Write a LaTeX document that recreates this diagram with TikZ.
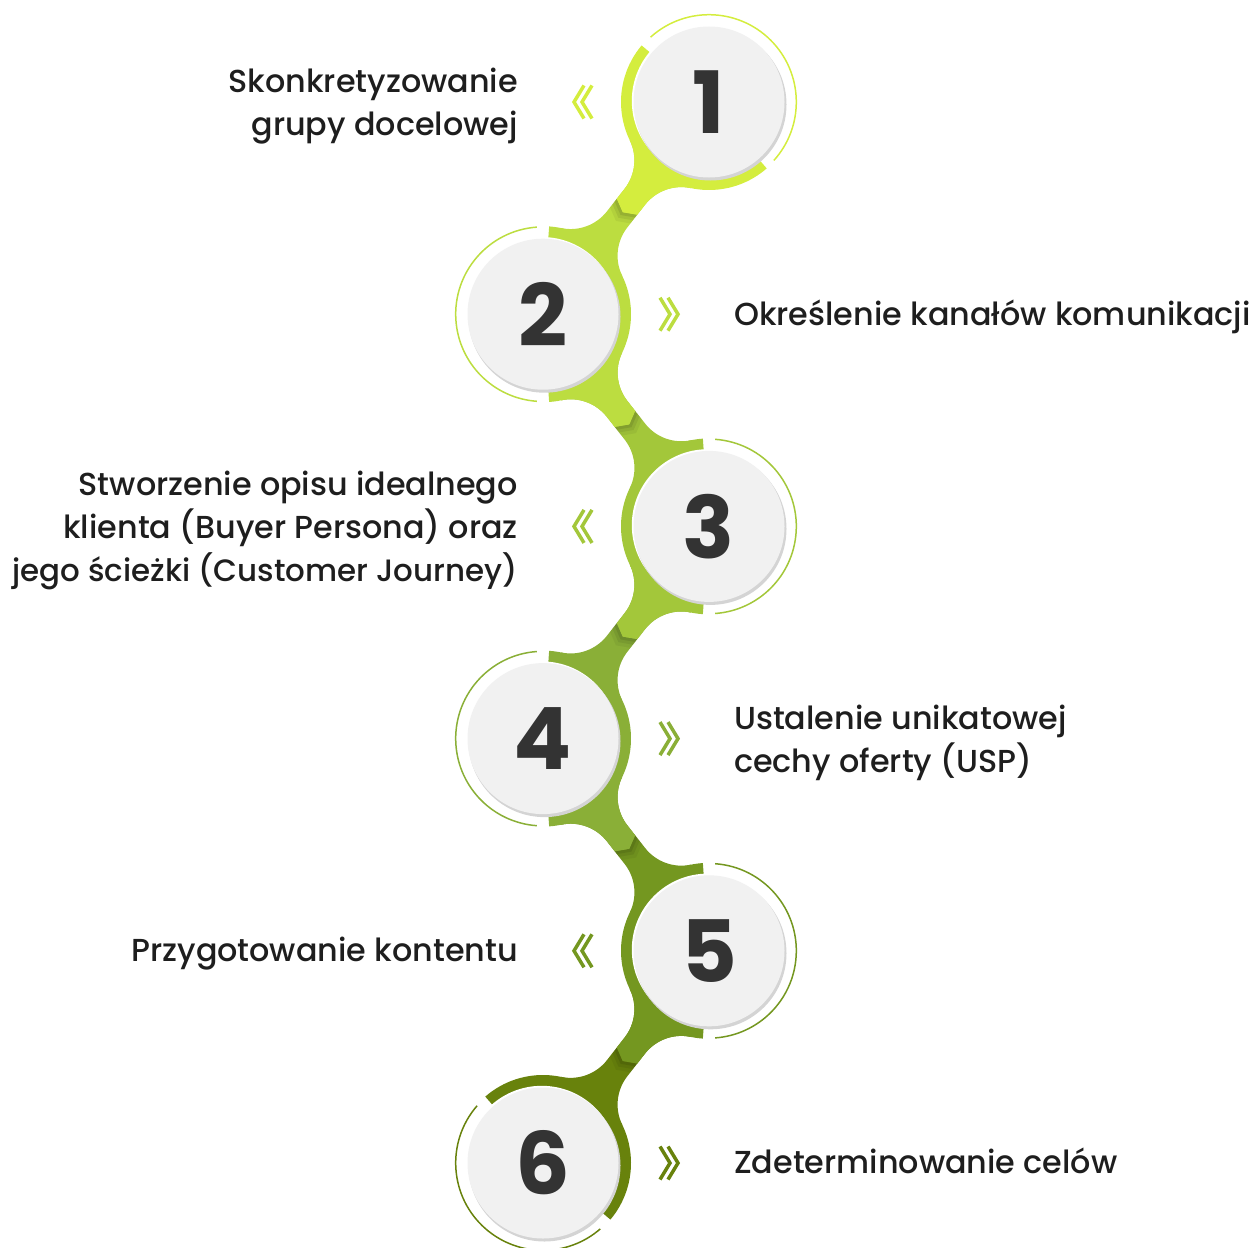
\documentclass[tikz,border=0pt]{standalone}
\usepackage{fontspec}
\setmainfont{Poppins}
\newfontfamily\txtfont{Poppins Medium}
\definecolor{cA}{RGB}{212,237,62}
\definecolor{cB}{RGB}{188,221,64}
\definecolor{cC}{RGB}{163,199,58}
\definecolor{cD}{RGB}{138,175,55}
\definecolor{cE}{RGB}{116,151,32}
\definecolor{cF}{RGB}{104,130,12}
\definecolor{discfill}{RGB}{241,241,241}
\definecolor{discshadow}{RGB}{212,212,212}
\definecolor{digitcol}{RGB}{51,51,51}
\definecolor{tcol}{RGB}{30,30,30}
\def\myneckpath{(0,0) -- (79.0,38.75) arc[start angle=206.1, end angle=270, radius=46] -- (149.1,13) arc[start angle=270, end angle=333.9, radius=46] -- (269.4,0) -- (190.4,-38.75) arc[start angle=26.1, end angle=90, radius=46] -- (120.3,-13) arc[start angle=90, end angle=153.9, radius=46] -- cycle}
\newcommand{\myneck}[4]{%
  \begin{scope}[shift={(#1)},rotate=#2]
    \fill[#4] \myneckpath;
    \begin{scope}
      \clip \myneckpath;
      \foreach \w/\o in {11/0.05,7/0.07,3.5/0.09}{%
        \fill[black,opacity=\o] (133,13) -- (140,0) -- (133,-13) -- (133+\w,-13) -- (140+\w,0) -- (133+\w,13) -- cycle;}
      \fill[#3] (-50,-120) -- (-50,120) -- (75.4,120) -- (140,0) -- (75.4,-120) -- cycle;
    \end{scope}
  \end{scope}}
\newcommand{\myband}[4]{%
  \fill[#2,shift={(#1)}] (#3:88) arc[start angle=#3, end angle=#4, radius=88] -- (#4:75) arc[start angle=#4, end angle=#3, radius=75] -- cycle;}
\newcommand{\mythin}[4]{%
  \draw[#2,line width=1.5,shift={(#1)}] (#3:87.3) arc[start angle=#3, end angle=#4, radius=87.3];}
\newcommand{\mydisc}[3]{%
  \fill[white,shift={(#1)}] (-1.2,1.2) circle[radius=76];
  \fill[discshadow,shift={(#1)}] (1.5,-2.5) circle[radius=76];
  \fill[discfill] (#1) circle[radius=75.5];
  \node[digit] (#2) at (#1) {#3};}
\begin{document}
\begin{tikzpicture}[x=1pt,y=1pt,
  digit/.style={font=\fontsize{86}{86}\selectfont\bfseries, text=digitcol, inner sep=0},
  txt/.style={font=\txtfont\fontsize{31.8}{43}\selectfont, text=tcol, inner sep=0},
  chev/.style={line width=3.5, line join=miter}]
\useasboundingbox (0,0) rectangle (1255,-1247);
\coordinate (c1) at (709,-102);
\coordinate (c2) at (543,-314.2);
\coordinate (c3) at (709,-526.4);
\coordinate (c4) at (543,-738.6);
\coordinate (c5) at (709,-950.8);
\coordinate (c6) at (543,-1163);
% necks
\myneck{c1}{231.95}{cA}{cB}
\myneck{c2}{-51.95}{cB}{cC}
\myneck{c3}{231.95}{cC}{cD}
\myneck{c4}{-51.95}{cD}{cE}
\myneck{c5}{231.95}{cE}{cF}
% bands
\myband{c1}{cA}{140}{311}
\myband{c2}{cB}{86}{-86}
\myband{c3}{cC}{94}{266}
\myband{c4}{cD}{86}{-86}
\myband{c5}{cE}{94}{266}
\myband{c6}{cF}{131}{-40}
% thin arcs
\mythin{c1}{cA}{132}{-42}
\mythin{c2}{cB}{94}{266}
\mythin{c3}{cC}{86}{-86}
\mythin{c4}{cD}{94}{266}
\mythin{c5}{cE}{86}{-86}
\mythin{c6}{cF}{139}{311}
% discs
\mydisc{c1}{n1}{1}
\mydisc{c2}{n2}{2}
\mydisc{c3}{n3}{3}
\mydisc{c4}{n4}{4}
\mydisc{c5}{n5}{5}
\mydisc{c6}{n6}{6}
% chevrons
\draw[chev,cA,shift={(0,-102)}] (584,16.5) -- (574,0) -- (584,-16.5) (592,16.5) -- (582,0) -- (592,-16.5);
\draw[chev,cC,shift={(0,-526.4)}] (584,16.5) -- (574,0) -- (584,-16.5) (592,16.5) -- (582,0) -- (592,-16.5);
\draw[chev,cE,shift={(0,-950.8)}] (584,16.5) -- (574,0) -- (584,-16.5) (592,16.5) -- (582,0) -- (592,-16.5);
\draw[chev,cB,shift={(0,-314.2)}] (660,16.5) -- (670,0) -- (660,-16.5) (668,16.5) -- (678,0) -- (668,-16.5);
\draw[chev,cD,shift={(0,-738.6)}] (660,16.5) -- (670,0) -- (660,-16.5) (668,16.5) -- (678,0) -- (668,-16.5);
\draw[chev,cF,shift={(0,-1163)}] (660,16.5) -- (670,0) -- (660,-16.5) (668,16.5) -- (678,0) -- (668,-16.5);
% texts
\node[txt,anchor=east,align=right] (t1) at (518,-106) {Skonkretyzowanie\\grupy docelowej};
\node[txt,anchor=west,align=left] (t2) at (734,-317) {Określenie kanałów komunikacji};
\node[txt,anchor=east,align=right] (t3) at (518,-530.4) {Stworzenie opisu idealnego\\klienta (Buyer Persona) oraz\\\fontsize{30.9}{43}\selectfont jego ścieżki (Customer Journey)};
\node[txt,anchor=west,align=left] (t4) at (734,-742.6) {Ustalenie unikatowej\\cechy oferty (USP)};
\node[txt,anchor=east,align=right] (t5) at (518,-954) {Przygotowanie kontentu};
\node[txt,anchor=west,align=left] (t6) at (734,-1161) {Zdeterminowanie celów};
\end{tikzpicture}
\end{document}
